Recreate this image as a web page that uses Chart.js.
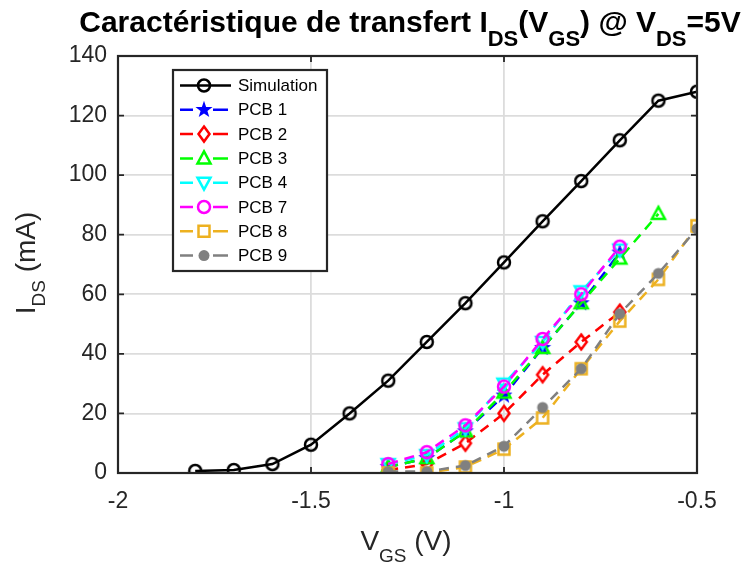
<!DOCTYPE html>
<html>
<head>
<meta charset="utf-8">
<script src="https://cdn.jsdelivr.net/npm/chart.js@4.4.1/dist/chart.umd.min.js"></script>
<style>
  html, body { margin: 0; padding: 0; background: #ffffff; }
  #wrap { width: 747px; height: 567px; }
</style>
</head>
<body>
<div id="wrap"><canvas id="c" width="747" height="567"></canvas></div>
<script>
// ---------------- DATA ----------------
const vgsSim = [-1.8, -1.7, -1.6, -1.5, -1.4, -1.3, -1.2, -1.1, -1.0, -0.9, -0.8, -0.7, -0.6, -0.5];
const idsSim = [0.7, 1.0, 3.0, 9.5, 20, 31, 44, 57, 70.7, 84.5, 98, 111.7, 125, 128];

const vgsPcb = [-1.3, -1.2, -1.1, -1.0, -0.9, -0.8, -0.7, -0.6, -0.5];
const idsPcb1 = [2, 5, 14, 26, 42, 57, 74];
const idsPcb2 = [1, 3, 10, 20, 33, 44, 54];
const idsPcb3 = [2, 5, 14, 27, 42, 57, 72, 87];
const idsPcb4 = [3, 6, 15, 30, 44, 61, 75];
const idsPcb7 = [3, 7, 16, 29, 45, 60, 76];
const idsPcb8 = [0, 0, 2, 8, 18.5, 35, 51, 65, 83];
const idsPcb9 = [0.5, 0.5, 2.5, 9, 22, 35, 53.5, 67, 82];

const seriesNames = ['Simulation', 'PCB 1', 'PCB 2', 'PCB 3', 'PCB 4', 'PCB 7', 'PCB 8', 'PCB 9'];
const xTicks = [-2, -1.5, -1, -0.5];
const yTicks = [0, 20, 40, 60, 80, 100, 120, 140];

// ---------------- STYLE ----------------
const FONT = 'Arial, "Liberation Sans", sans-serif';
const AXIS_COLOR = '#262626';
const LW = 2.5;

function drawMarker(ctx, kind, x, y, color) {
  ctx.save();
  ctx.lineWidth = LW;
  ctx.strokeStyle = color;
  ctx.fillStyle = color;
  ctx.setLineDash([]);
  ctx.beginPath();
  if (kind === 'circle') {
    ctx.arc(x, y, 6, 0, Math.PI * 2);
    ctx.stroke();
  } else if (kind === 'dot') {
    ctx.arc(x, y, 5.5, 0, Math.PI * 2);
    ctx.fill();
  } else if (kind === 'star') {
    const R = 9, r = 3.6;
    for (let i = 0; i < 10; i++) {
      const a = -Math.PI / 2 + i * Math.PI / 5;
      const rr = i % 2 === 0 ? R : r;
      const px = x + rr * Math.cos(a), py = y + rr * Math.sin(a);
      if (i === 0) ctx.moveTo(px, py); else ctx.lineTo(px, py);
    }
    ctx.closePath();
    ctx.fill();
  } else if (kind === 'diamond') {
    ctx.moveTo(x, y - 7.5); ctx.lineTo(x + 5.5, y); ctx.lineTo(x, y + 7.5); ctx.lineTo(x - 5.5, y);
    ctx.closePath(); ctx.stroke();
  } else if (kind === 'triUp') {
    ctx.moveTo(x, y - 7); ctx.lineTo(x + 6.5, y + 5); ctx.lineTo(x - 6.5, y + 5);
    ctx.closePath(); ctx.stroke();
  } else if (kind === 'triDown') {
    ctx.moveTo(x, y + 7); ctx.lineTo(x + 6.5, y - 5); ctx.lineTo(x - 6.5, y - 5);
    ctx.closePath(); ctx.stroke();
  } else if (kind === 'square') {
    ctx.rect(x - 5.5, y - 5.5, 11, 11);
    ctx.stroke();
  }
  ctx.restore();
}

function markerCanvas(kind, color) {
  const cv = document.createElement('canvas');
  cv.width = 24; cv.height = 24;
  drawMarker(cv.getContext('2d'), kind, 12, 12, color);
  return cv;
}

const styles = [
  { color: '#000000', kind: 'circle', dash: [] },
  { color: '#0000ff', kind: 'star', dash: [10, 7] },
  { color: '#ff0000', kind: 'diamond', dash: [10, 7] },
  { color: '#00ff00', kind: 'triUp', dash: [10, 7] },
  { color: '#00ffff', kind: 'triDown', dash: [10, 7] },
  { color: '#ff00ff', kind: 'circle', dash: [10, 7] },
  { color: '#edb120', kind: 'square', dash: [10, 7] },
  { color: '#808080', kind: 'dot', dash: [10, 7] }
];

function pts(xs, ys) { return ys.map((v, i) => ({ x: xs[i], y: v })); }
const seriesData = [
  pts(vgsSim, idsSim),
  pts(vgsPcb, idsPcb1),
  pts(vgsPcb, idsPcb2),
  pts(vgsPcb, idsPcb3),
  pts(vgsPcb, idsPcb4),
  pts(vgsPcb, idsPcb7),
  pts(vgsPcb, idsPcb8),
  pts(vgsPcb, idsPcb9)
];

const datasets = seriesData.map((d, i) => ({
  label: seriesNames[i],
  data: d,
  borderColor: styles[i].color,
  backgroundColor: styles[i].color,
  borderWidth: LW,
  borderDash: styles[i].dash,
  pointStyle: markerCanvas(styles[i].kind, styles[i].color),
  pointRadius: 6,
  pointHoverRadius: 6,
  tension: 0,
  fill: false,
  order: seriesNames.length - i
}));

// ---------------- TEXT WITH SUBSCRIPTS ----------------
function drawRich(ctx, parts, cx, baseY, mainFont, subFont, subDrop) {
  let total = 0;
  parts.forEach(p => { ctx.font = p.sub ? subFont : mainFont; total += ctx.measureText(p.t).width; });
  let x = cx - total / 2;
  ctx.textAlign = 'left';
  ctx.textBaseline = 'alphabetic';
  parts.forEach(p => {
    ctx.font = p.sub ? subFont : mainFont;
    ctx.fillText(p.t, x, baseY + (p.sub ? subDrop : 0));
    x += ctx.measureText(p.t).width;
  });
}

const decorPlugin = {
  id: 'decor',
  afterDraw(chart) {
    const ctx = chart.ctx;
    const a = chart.chartArea;
    const xs = chart.scales.x, ys = chart.scales.y;
    ctx.save();
    // axes box
    ctx.strokeStyle = AXIS_COLOR;
    ctx.lineWidth = 2.2;
    ctx.setLineDash([]);
    ctx.strokeRect(a.left, a.top, a.right - a.left, a.bottom - a.top);
    // inner ticks
    ctx.lineWidth = 1.8;
    const tl = 6;
    xTicks.forEach(v => {
      const px = xs.getPixelForValue(v);
      ctx.beginPath();
      ctx.moveTo(px, a.bottom); ctx.lineTo(px, a.bottom - tl);
      ctx.moveTo(px, a.top); ctx.lineTo(px, a.top + tl);
      ctx.stroke();
    });
    yTicks.forEach(v => {
      const py = ys.getPixelForValue(v);
      ctx.beginPath();
      ctx.moveTo(a.left, py); ctx.lineTo(a.left + tl, py);
      ctx.moveTo(a.right, py); ctx.lineTo(a.right - tl, py);
      ctx.stroke();
    });

    // title
    ctx.fillStyle = '#000000';
    drawRich(ctx, [
      { t: 'Caractéristique de transfert I' }, { t: 'DS', sub: true },
      { t: '(V' }, { t: 'GS', sub: true }, { t: ') @ V' }, { t: 'DS', sub: true }, { t: '=5V' }
    ], 410, 32, 'bold 30px ' + FONT, 'bold 22px ' + FONT, 14);

    // x axis label
    ctx.fillStyle = AXIS_COLOR;
    drawRich(ctx, [{ t: 'V' }, { t: 'GS', sub: true }, { t: ' (V)' }],
      406, 550, '28px ' + FONT, '19px ' + FONT, 12);

    // y axis label
    ctx.save();
    ctx.translate(35, 263);
    ctx.rotate(-Math.PI / 2);
    drawRich(ctx, [{ t: 'I' }, { t: 'DS', sub: true }, { t: ' (mA)' }],
      0, 0, '28px ' + FONT, '19px ' + FONT, 10);
    ctx.restore();

    // legend
    const lx = 173, ly = 70, lw = 154, lh = 201;
    ctx.fillStyle = '#ffffff';
    ctx.fillRect(lx, ly, lw, lh);
    ctx.strokeStyle = AXIS_COLOR;
    ctx.lineWidth = 2.2;
    ctx.strokeRect(lx, ly, lw, lh);
    seriesNames.forEach((name, i) => {
      const y = 85.5 + i * 24.3;
      ctx.save();
      ctx.strokeStyle = styles[i].color;
      ctx.lineWidth = LW;
      ctx.beginPath();
      if (styles[i].dash.length) {
        ctx.moveTo(180, y); ctx.lineTo(193, y);
        ctx.moveTo(213, y); ctx.lineTo(228, y);
      } else {
        ctx.moveTo(180, y); ctx.lineTo(231, y);
      }
      ctx.stroke();
      ctx.restore();
      drawMarker(ctx, styles[i].kind, 204, y, styles[i].color);
      ctx.fillStyle = '#000000';
      ctx.font = '17px ' + FONT;
      ctx.textAlign = 'left';
      ctx.textBaseline = 'middle';
      ctx.fillText(name, 238, y + 1);
    });
    ctx.restore();
  }
};

Chart.defaults.font.family = FONT;

new Chart(document.getElementById('c'), {
  type: 'line',
  data: { datasets },
  options: {
    responsive: false,
    animation: false,
    events: [],
    layout: { padding: { top: 56, right: 50, left: 0, bottom: 0 } },
    plugins: { legend: { display: false }, title: { display: false }, tooltip: { enabled: false } },
    scales: {
      x: {
        type: 'linear',
        min: -2, max: -0.5,
        afterBuildTicks: s => { s.ticks = xTicks.map(v => ({ value: v })); },
        afterFit: s => { s.height = 94; },
        border: { display: false },
        grid: { color: '#dcdcdc', lineWidth: 1.8, drawTicks: false },
        ticks: {
          padding: 15,
          color: AXIS_COLOR,
          font: { size: 23, family: FONT },
          maxRotation: 0,
          callback: v => String(v)
        }
      },
      y: {
        type: 'linear',
        min: 0, max: 140,
        afterBuildTicks: s => { s.ticks = yTicks.map(v => ({ value: v })); },
        afterFit: s => { s.width = 118; },
        border: { display: false },
        grid: { color: '#dcdcdc', lineWidth: 1.8, drawTicks: false },
        ticks: {
          padding: 11,
          color: AXIS_COLOR,
          font: { size: 23, family: FONT },
          callback: v => String(v)
        }
      }
    }
  },
  plugins: [decorPlugin]
});
</script>
</body>
</html>
